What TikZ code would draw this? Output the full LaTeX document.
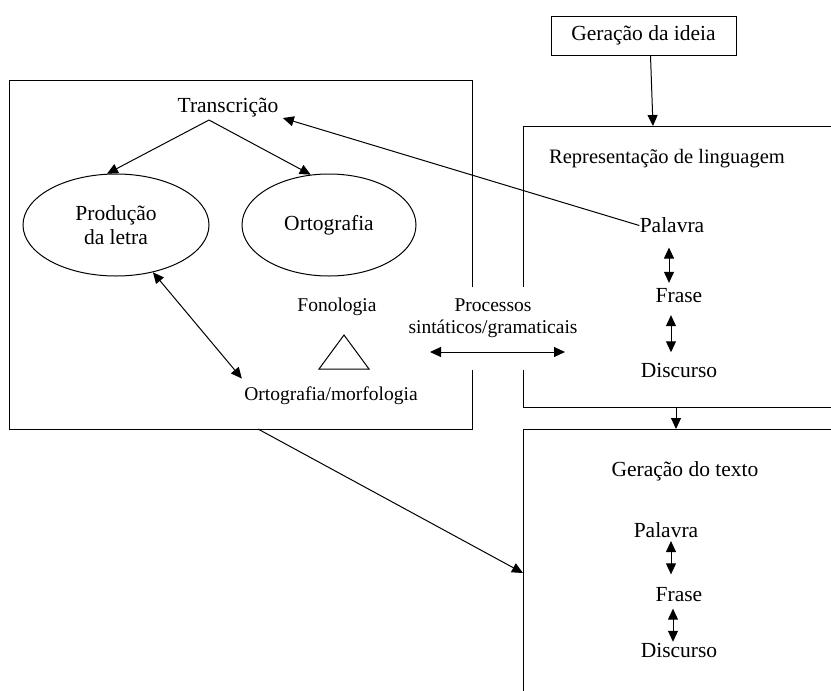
\documentclass[tikz,border=0pt]{standalone}
\usepackage{fontspec}
\setmainfont{Liberation Serif}
\usetikzlibrary{arrows.meta,shapes.geometric}
\begin{document}
\begin{tikzpicture}[x=1pt, y=-1pt, line width=1pt, >={Triangle[length=11pt,width=10pt]},
    lbl/.style={inner sep=0pt, font=\fontsize{21.5}{24}\selectfont},
    lblsm/.style={inner sep=0pt, align=center, font=\fontsize{19.5}{22}\selectfont},
    oval/.style={draw, ellipse, inner sep=0pt, minimum height=102pt, align=center, font=\fontsize{21.5}{24}\selectfont}]
    \useasboundingbox (0,0) rectangle (831,691);
    \clip (0,0) rectangle (831,691);
    \draw (472,287) -- (472,80) -- (9,80) -- (9,429) -- (472,429) -- (472,370);
    \draw (835,126) -- (523,126) -- (523,287); \draw (523,370) -- (523,407) -- (835,407);
    \draw (835,429) -- (523,429) -- (523,695);
    \draw (344,335) -- (319,369) -- (369,369) -- cycle;
    \node[draw, lbl, minimum width=185pt, minimum height=39pt] (idea) at (643.5,35.5) {Geração da ideia};
    \node[lbl] (trans) at (228,108) {Transcrição};
    \node[oval, minimum width=186pt] (prod) at (116,225) {Produção\\da letra};
    \node[oval, minimum width=174pt] (orto) at (329,225) {Ortografia};
    \node[lblsm] (fono) at (337,307) {Fonologia};
    \node[lblsm] (orfo) at (331,396) {Ortografia/morfologia};
    \node[lblsm] (proc) at (493,318) {Processos\\sintáticos/gramaticais};
    \node[lbl, font=\fontsize{20.5}{24}\selectfont] (rep) at (667,159) {Representação de linguagem};
    \node[lbl] (pal1) at (672,225.5) {Palavra};
    \node[lbl] (fr1) at (679,295.5) {Frase};
    \node[lbl] (dis1) at (679,370) {Discurso};
    \node[lbl] (gtxt) at (685,471) {Geração do texto};
    \node[lbl] (pal2) at (666,530) {Palavra};
    \node[lbl] (fr2) at (679,595) {Frase};
    \node[lbl] (dis2) at (679,650.5) {Discurso};
    \coordinate (reptop) at (653,126);
    \coordinate (repbot) at (676,407); \coordinate (ttop) at (676,429);
    \coordinate (lbot) at (258,429); \coordinate (tleft) at (523,573);
    \coordinate (pl) at (430,352); \coordinate (pr) at (565,352);
    \coordinate (tsplit) at ([xshift=-19pt,yshift=-2pt]trans.south);
    \draw[->] ([xshift=7pt]idea.south) -- (reptop);
    \draw[->] (tsplit) -- (prod.100);
    \draw[->] (tsplit) -- (orto.110);
    \draw[<->] (prod.-52) -- ([xshift=-2pt,yshift=8pt]orfo.north west);
    \draw[->] (pal1.west) -- ([xshift=4pt]trans.south east);
    \draw[<->] (pl) -- (pr);
    \draw[<->, shorten <=14pt, shorten >=5pt] ([xshift=-3pt]pal1.south) -- ([xshift=-3pt]pal1.south |- fr1.north);
    \draw[<->, shorten <=12pt, shorten >=10pt] ([xshift=-8pt]fr1.south) -- ([xshift=-8pt]fr1.south |- dis1.north);
    \draw[->] (repbot) -- (ttop);
    \draw[->] (lbot) -- (tleft);
    \draw[<->, shorten <=3pt, shorten >=13pt] ([xshift=5pt]pal2.south) -- ([xshift=5pt]pal2.south |- fr2.north);
    \draw[<->, shorten <=6pt, shorten >=1pt] ([xshift=-6pt]fr2.south) -- ([xshift=-6pt]fr2.south |- dis2.north);
\end{tikzpicture}
\end{document}
